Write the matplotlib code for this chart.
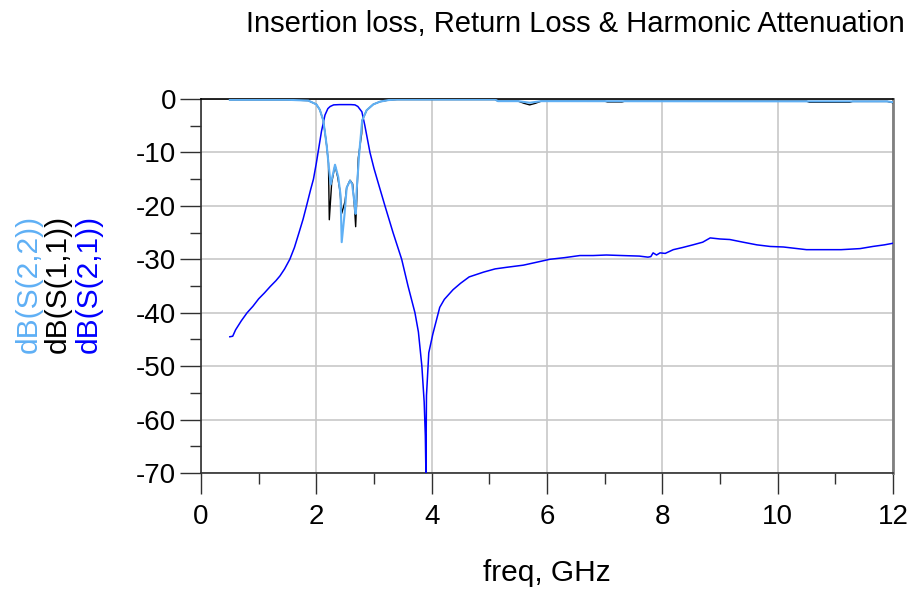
import numpy as np
import matplotlib
matplotlib.use("Agg")
import matplotlib.pyplot as plt
from matplotlib.ticker import MultipleLocator

plt.rcParams['font.family'] = ['Liberation Sans', 'DejaVu Sans']
plt.rcParams['axes.unicode_minus'] = False

# S21 (insertion loss / harmonic attenuation)
f21 = [0.50, 0.55, 0.60, 0.70, 0.80, 0.90, 1.00, 1.10, 1.20, 1.30, 1.37, 1.45,
       1.54, 1.62, 1.70, 1.77, 1.83, 1.90, 1.95, 2.00, 2.03, 2.09, 2.15, 2.20,
       2.24, 2.30, 2.40, 2.50, 2.60, 2.67, 2.72, 2.79, 2.84, 2.93, 3.00, 3.07,
       3.19, 3.33, 3.48, 3.59, 3.71, 3.77, 3.83, 3.87, 3.89, 3.90, 3.91, 3.95,
       4.02, 4.14, 4.22, 4.37, 4.50, 4.65, 4.90, 5.10, 5.30, 5.59, 5.80, 6.05,
       6.30, 6.57, 6.80, 7.03, 7.30, 7.60, 7.75, 7.80, 7.84, 7.90, 7.96, 8.05,
       8.19, 8.35, 8.53, 8.70, 8.83, 9.00, 9.17, 9.40, 9.64, 9.87, 10.10, 10.50,
       10.80, 11.10, 11.43, 11.65, 11.85, 12.00]
s21 = [-44.5, -44.4, -43.2, -41.5, -40.0, -38.8, -37.4, -36.3, -35.1, -34.0, -33.1, -31.8,
       -30.0, -27.8, -25.0, -22.5, -20.0, -17.0, -15.0, -12.0, -10.0, -6.0, -3.0, -1.8,
       -1.4, -1.1, -1.05, -1.05, -1.05, -1.1, -1.4, -2.4, -4.9, -10.0, -13.0, -15.6,
       -20.0, -25.0, -30.0, -35.0, -40.0, -43.6, -50.0, -56.7, -63.0, -70.0, -55.5, -47.5,
       -44.0, -39.0, -37.5, -35.7, -34.5, -33.3, -32.4, -31.8, -31.5, -31.1, -30.6, -30.0,
       -29.7, -29.3, -29.3, -29.2, -29.3, -29.4, -29.6, -29.5, -28.8, -29.2, -28.8, -28.9,
       -28.2, -27.8, -27.3, -26.8, -26.0, -26.2, -26.3, -26.8, -27.3, -27.6, -27.7, -28.2,
       -28.2, -28.2, -28.0, -27.6, -27.3, -27.0]

# S11 (input return loss)
f11 = [0.50, 1.00, 1.50, 1.86, 2.00, 2.06, 2.12, 2.15, 2.18, 2.21, 2.225, 2.266,
       2.324, 2.37, 2.41, 2.44, 2.497, 2.526, 2.584, 2.63, 2.659, 2.682, 2.70, 2.728,
       2.786, 2.795, 2.873, 2.988, 3.104, 3.25, 3.40, 5.10, 5.15, 5.50, 5.60, 5.70,
       5.80, 5.90, 7.00, 7.05, 7.30, 7.35, 10.50, 10.55, 11.25, 11.30, 11.90, 12.00]
s11 = [-0.15, -0.15, -0.15, -0.3, -1.0, -2.0, -4.0, -6.3, -8.8, -12.0, -22.6, -15.7,
       -12.4, -14.6, -17.2, -21.4, -19.2, -16.6, -15.2, -15.9, -19.8, -23.9, -19.0, -11.0,
       -6.5, -4.0, -2.1, -1.0, -0.5, -0.2, -0.1, -0.1, -0.4, -0.4, -0.8, -1.1,
       -0.8, -0.4, -0.4, -0.55, -0.55, -0.4, -0.4, -0.6, -0.6, -0.45, -0.45, -0.7]

# S22 (output return loss)
f22 = [0.50, 1.00, 1.50, 1.86, 2.00, 2.06, 2.12, 2.15, 2.18, 2.21, 2.249, 2.324,
       2.38, 2.42, 2.44, 2.49, 2.526, 2.584, 2.62, 2.665, 2.682, 2.70, 2.745, 2.795,
       2.873, 2.988, 3.104, 3.25, 3.40, 5.10, 5.15, 5.50, 5.60, 5.70, 5.80, 5.90,
       11.90, 12.00]
s22 = [-0.15, -0.15, -0.15, -0.3, -1.0, -2.0, -4.0, -6.3, -8.8, -12.0, -16.0, -12.3,
       -14.6, -18.0, -26.8, -21.5, -16.6, -15.3, -15.9, -19.8, -21.5, -17.0, -10.0, -4.0,
       -2.1, -1.0, -0.5, -0.2, -0.1, -0.1, -0.4, -0.4, -0.55, -0.7, -0.55, -0.4,
       -0.45, -0.6]

c_s22 = '#5FB0F5'
c_s11 = 'black'
c_s21 = '#0000FF'

fig = plt.figure(figsize=(9.11, 5.89), dpi=100)
ax = fig.add_axes([201 / 911, 1 - 473 / 589, 692 / 911, 374 / 589])

ax.plot(f21, s21, color=c_s21, lw=1.1, zorder=3)
ax.plot(f11, s11, color=c_s11, lw=1.0, zorder=4)
ax.plot(f22, s22, color=c_s22, lw=1.5, zorder=5)

ax.set_xlim(0, 12)
ax.set_ylim(-70, 0)
ax.xaxis.set_major_locator(MultipleLocator(2))
ax.xaxis.set_minor_locator(MultipleLocator(1))
ax.yaxis.set_major_locator(MultipleLocator(10))
ax.yaxis.set_minor_locator(MultipleLocator(5))
ax.tick_params(which='major', direction='out', length=15, width=1.0, color='#303030',
               labelsize=20, pad=3)
ax.tick_params(which='minor', direction='out', length=8, width=1.0, color='#303030')
ax.tick_params(axis='x', which='major', pad=7)
ax.grid(True, which='major', color='#c8c8c8', lw=1.2, zorder=0)

for side in ['left', 'bottom']:
    ax.spines[side].set_color('#303030')
    ax.spines[side].set_linewidth(1.2)
ax.spines['top'].set_color('black')
ax.spines['top'].set_linewidth(1.2)
ax.spines['right'].set_color('#808080')
ax.spines['right'].set_linewidth(2)

# x label near the bottom edge
fig.text(547 / 911, 1 - 581 / 589, 'freq, GHz', ha='center', va='baseline', fontsize=21.5)

# stacked y labels, one per trace
fig.text(28.5 / 911, 1 - 353 / 589, 'dB(S(2,2))', color=c_s22, rotation=90,
         ha='center', va='bottom', fontsize=21.5)
fig.text(58 / 911, 1 - 353 / 589, 'dB(S(1,1))', color=c_s11, rotation=90,
         ha='center', va='bottom', fontsize=21.5)
fig.text(89 / 911, 1 - 353 / 589, 'dB(S(2,1))', color=c_s21, rotation=90,
         ha='center', va='bottom', fontsize=21.5)

fig.text(905 / 911, 1 - 10 / 589, 'Insertion loss, Return Loss & Harmonic Attenuation',
         ha='right', va='top', fontsize=21)

fig.savefig('out.png', dpi=100)
